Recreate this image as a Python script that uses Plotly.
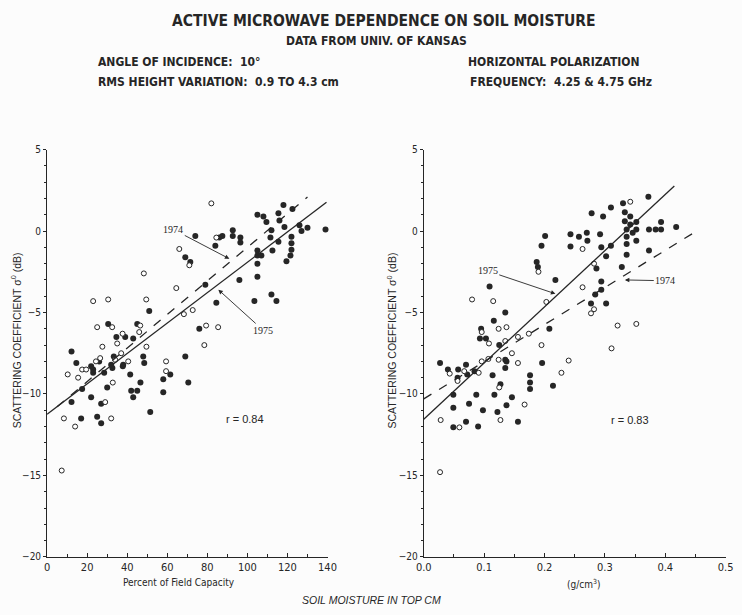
import plotly.graph_objects as go

# ---------------- Percent of field capacity panel ----------------
pfc_1975_x = [69, 71.5, 74, 69, 76, 79, 84.5, 84, 86, 87.5, 92.7, 92.7, 96.5, 96.5, 96,
              103.5, 105, 108, 109.5, 105, 105, 105, 105, 107, 112, 112, 112.5, 111.5,
              114.5, 115.5, 116, 115.5, 118, 118.5, 119.5, 122.5, 122, 122, 122, 121.5,
              126, 127, 130, 139, 143.5,
              12.2, 14.6, 23, 26, 30.5, 33.3, 39, 45, 43, 51, 48, 48.5, 37.8, 28.5, 32.6,
              41.5, 58, 61.5, 23, 30, 17.5, 22, 12.2, 27, 17, 25, 27, 46.6, 42, 45, 43,
              51.5, 58, 70.5, 34.6, 22, 32, 38]
pfc_1975_y = [-1.6, -1.9, -0.3, -7.7, -6.0, -3.3, -4.4, -0.9, -0.4, -0.3, 0.05, -0.3, -0.4,
              -0.7, -3.0, -4.3, 1.0, 0.9, 0.55, -1.2, -1.5, -2.0, -2.8, -1.5, -3.9, 0.05,
              -1.2, -0.4, -4.3, 1.1, 0.65, -0.65, 1.6, 0.25, -1.85, 1.35, -0.35, -0.75,
              -1.15, -1.5, 0.35, 0.0, 0.2, 0.1, 0.1,
              -7.4, -8.1, -8.5, -8.0, -5.7, -7.7, -6.5, -5.7, -6.6, -4.9, -7.7, -8.1, -8.3,
              -8.7, -8.4, -8.8, -9.1, -8.8, -8.7, -9.6, -9.7, -10.2, -10.5, -10.6, -11.5,
              -11.4, -11.8, -9.3, -9.8, -9.8, -10.2, -11.1, -9.9, -9.3, -6.5, -8.3, -8.2,
              -8.2]
pfc_1974_x = [82, 66, 71, 64.5, 68.3, 72.7, 84.5, 48.3, 23, 30.5, 49.5, 25, 32.5, 37.7,
              46, 46.5, 27.6, 35, 49.6, 78.5, 85.4, 79.4, 26.5, 37, 40.5, 59.4, 59.4, 10.3,
              17.5, 19.5, 15.5, 32.8, 29, 8.4, 14, 32, 7.3, 24.4, 34]
pfc_1974_y = [1.7, -1.1, -2.1, -3.5, -5.1, -4.85, -0.4, -2.6, -4.3, -4.2, -4.2, -5.9, -5.9,
              -6.3, -6.2, -5.8, -7.1, -6.9, -7.1, -7.0, -5.9, -5.8, -7.8, -7.5, -8.0, -8.0,
              -8.6, -8.8, -8.5, -8.5, -9.0, -9.3, -10.5, -11.5, -12.0, -11.5, -14.7, -8.0,
              -7.9]

# Regression lines (intercept, slope, x-start, x-end)
pfc_fit_1975 = [-11.25, 0.0933, 0, 139.5]
pfc_fit_1974 = [-11.3, 0.103, 5, 130]

# ---------------- Volumetric (g/cm3) panel ----------------
vol_1975_x = [0.027, 0.04, 0.057, 0.07, 0.084, 0.109, 0.095, 0.093, 0.103, 0.116, 0.135,
              0.125, 0.137, 0.135, 0.114, 0.176, 0.196, 0.208, 0.187, 0.189, 0.195, 0.201,
              0.218, 0.243, 0.243, 0.257, 0.27, 0.271, 0.278, 0.292, 0.297, 0.294, 0.286,
              0.294, 0.294, 0.284, 0.277, 0.302, 0.302, 0.31, 0.31, 0.33, 0.333, 0.328,
              0.333, 0.342, 0.342, 0.336, 0.336, 0.336, 0.336, 0.346, 0.352, 0.352, 0.352,
              0.372, 0.373, 0.373, 0.384, 0.393, 0.393, 0.418,
              0.056, 0.072, 0.135, 0.127, 0.176, 0.176, 0.214, 0.049, 0.049, 0.049, 0.07,
              0.075, 0.087, 0.09, 0.098, 0.117, 0.122, 0.137, 0.146, 0.156]
vol_1975_y = [-8.1, -8.5, -8.5, -8.2, -8.6, -3.4, -6.0, -6.6, -6.6, -5.5, -5.0, -7.0, -8.0,
              -8.4, -8.85, -8.85, -8.1, -6.0, -1.9, -2.2, -0.9, -0.3, -3.0, -0.2, -0.95,
              -0.35, -0.1, -0.6, 1.1, -0.2, 0.9, -1.0, -2.3, -3.1, -3.6, -3.9, -4.45, -4.45,
              -1.55, -0.9, 1.45, 1.7, 1.15, -2.2, 0.6, 0.9, 0.4, 0.1, -0.35, -0.8, -1.45,
              -0.1, 0.55, 0.1, -0.6, 2.1, 0.1, -1.2, 0.1, 0.55, 0.1, 0.25,
              -9.0, -8.8, -7.9, -9.4, -9.3, -9.7, -9.5, -10.05, -10.85, -12.05, -11.7,
              -10.6, -10.05, -12.0, -11.0, -10.05, -11.1, -10.7, -10.2, -11.7]
vol_1974_x = [0.08, 0.115, 0.096, 0.124, 0.137, 0.108, 0.096, 0.107, 0.124, 0.135, 0.146,
              0.156, 0.174, 0.195, 0.203, 0.19, 0.24, 0.228, 0.263, 0.263, 0.282, 0.277,
              0.282, 0.311, 0.321, 0.342, 0.352, 0.156, 0.043, 0.067, 0.091, 0.056, 0.125,
              0.028, 0.059, 0.127, 0.167, 0.027]
vol_1974_y = [-4.2, -4.3, -6.2, -6.0, -5.9, -6.9, -8.0, -7.85, -7.9, -6.75, -7.5, -8.1, -6.3,
              -7.0, -4.35, -2.5, -7.95, -8.7, -1.1, -3.45, -2.0, -5.05, -4.8, -7.2, -5.8,
              1.8, -5.7, -6.5, -8.75, -8.6, -8.7, -9.2, -9.6, -11.6, -12.05, -11.6, -10.65,
              -14.8]

vol_fit_1975 = [-11.55, 34.5, 0, 0.415]
vol_fit_1974 = [-10.3, 22.8, 0, 0.457]

y_ticks = [5, 0, -5, -10, -15, -20]
pfc_ticks = [0, 20, 40, 60, 80, 100, 120, 140]
vol_ticks = [0.0, 0.1, 0.2, 0.3, 0.4, 0.5]

INK = "#262626"
NARROW = "Liberation Sans Narrow, DejaVu Sans Condensed, Arial Narrow, sans-serif"
SANS = "Liberation Sans, Arial, sans-serif"
SERIF = "Liberation Serif, DejaVu Serif, serif"

fig = go.Figure()


def add_panel(xs_f, ys_f, xs_o, ys_o, fit_a, fit_b, xa, ya):
    fig.add_trace(go.Scatter(x=xs_f, y=ys_f, mode="markers", xaxis=xa, yaxis=ya,
                             marker=dict(size=6, color=INK, line=dict(width=0)),
                             cliponaxis=False, showlegend=False))
    fig.add_trace(go.Scatter(x=xs_o, y=ys_o, mode="markers", xaxis=xa, yaxis=ya,
                             marker=dict(size=5, color="white", line=dict(width=1, color=INK)),
                             cliponaxis=False, showlegend=False))
    for fit, dash in ((fit_a, "solid"), (fit_b, "dash")):
        b0, b1, x0, x1 = fit
        fig.add_trace(go.Scatter(x=[x0, x1], y=[b0 + b1 * x0, b0 + b1 * x1], mode="lines",
                                 xaxis=xa, yaxis=ya, showlegend=False,
                                 line=dict(color=INK, width=1.3, dash=dash)))


add_panel(pfc_1975_x, pfc_1975_y, pfc_1974_x, pfc_1974_y, pfc_fit_1975, pfc_fit_1974, "x", "y")
add_panel(vol_1975_x, vol_1975_y, vol_1974_x, vol_1974_y, vol_fit_1975, vol_fit_1974, "x2", "y2")

W, H = 742, 615
ydom = [(H - 561) / H, (H - 147) / H]

yaxis_common = dict(range=[-20, 5], tickvals=y_ticks, ticks="outside", ticklen=3,
                    tickwidth=1, tickcolor=INK, showline=True, linecolor=INK, linewidth=1,
                    showgrid=False, zeroline=False,
                    minor=dict(dtick=1, ticks="outside", ticklen=2, tickcolor=INK),
                    tickfont=dict(family=NARROW, size=10, color=INK))
xaxis_common = dict(ticks="inside", ticklen=4, tickwidth=1, tickcolor=INK, showline=True,
                    linecolor=INK, linewidth=1, showgrid=False, zeroline=False,
                    tickfont=dict(family=NARROW, size=11, color=INK))

fig.update_layout(
    width=W, height=H,
    margin=dict(l=0, r=0, t=0, b=0),
    paper_bgcolor="#fcfcfc", plot_bgcolor="rgba(0,0,0,0)",
    xaxis=dict(domain=[40 / W, 327 / W], range=[0, 140], tickvals=pfc_ticks, anchor="y",
               minor=dict(dtick=10, ticks="inside", ticklen=3, tickcolor=INK), **xaxis_common),
    yaxis=dict(domain=ydom, anchor="x", **yaxis_common),
    xaxis2=dict(domain=[425.5 / W, 734.5 / W], range=[0, 0.5], tickvals=vol_ticks,
                tickformat=".1f", anchor="y2",
                minor=dict(dtick=0.05, ticks="inside", ticklen=3, tickcolor=INK), **xaxis_common),
    yaxis2=dict(domain=ydom, anchor="x2", **yaxis_common),
)

ann = []


def txt(text, x, y, size, family=SANS, xanchor="center", **kw):
    ann.append(dict(text=text, x=x / W, y=1 - y / H, xref="paper", yref="paper",
                    showarrow=False, xanchor=xanchor, yanchor="middle",
                    font=dict(family=family, size=size, color=INK), **kw))


# Header block
txt("<b>ACTIVE MICROWAVE DEPENDENCE ON SOIL MOISTURE</b>", 385, 16, 15.5, NARROW)
txt("<b>DATA FROM UNIV. OF KANSAS</b>", 377, 37, 12, NARROW)
txt("<b>ANGLE OF INCIDENCE:  10°</b>", 90, 58, 12, NARROW, xanchor="left")
txt("<b>RMS HEIGHT VARIATION:  0.9 TO 4.3 cm</b>", 90, 78, 12, NARROW, xanchor="left")
txt("<b>HORIZONTAL POLARIZATION</b>", 469, 58, 12, NARROW, xanchor="left")
txt("<b>FREQUENCY:  4.25 & 4.75 GHz</b>", 471, 78, 12, NARROW, xanchor="left")

# Axis titles
txt("SCATTERING COEFFICIENT σ<sup>0</sup> (dB)", 8, 341, 10.5, textangle=-90)
txt("SCATTERING COEFFICIENT σ<sup>0</sup> (dB)", 392, 341, 10.5, textangle=-90)
txt("Percent of Field Capacity", 175, 587, 10, NARROW)
txt("(g/cm<sup>3</sup>)", 590, 589, 10, NARROW)
txt("<i>SOIL MOISTURE IN TOP CM</i>", 372, 605, 10.5)


def data_label(text, x, y, xa, ya, size=10, family=SERIF):
    ann.append(dict(text=text, x=x, y=y, xref=xa, yref=ya, showarrow=False,
                    font=dict(family=family, size=size, color=INK)))


def labelled_pointer(text, x_head, y_head, x_text, y_text, xa, ya):
    # label sits at the arrow tail; the arrow runs from the label to the fitted line
    ann.append(dict(text=text, x=x_head, y=y_head, ax=x_text, ay=y_text, xref=xa, yref=ya,
                    axref=xa, ayref=ya, showarrow=True, arrowhead=2, arrowsize=1,
                    arrowwidth=0.9, arrowcolor=INK, standoff=0,
                    font=dict(family=SERIF, size=10, color=INK)))


labelled_pointer("1974", 91, -1.7, 63, 0.1, "x", "y")
labelled_pointer("1975", 85.5, -3.6, 108, -6.1, "x", "y")
data_label("r = 0.84", 99, -11.55, "x", "y", size=11, family=SANS)

labelled_pointer("1975", 0.218, -3.85, 0.106, -2.45, "x2", "y2")
labelled_pointer("1974", 0.333, -3.0, 0.40, -3.05, "x2", "y2")
data_label("r = 0.83", 0.342, -11.6, "x2", "y2", size=11, family=SANS)

fig.update_layout(annotations=ann)
fig.write_html("out.html")
